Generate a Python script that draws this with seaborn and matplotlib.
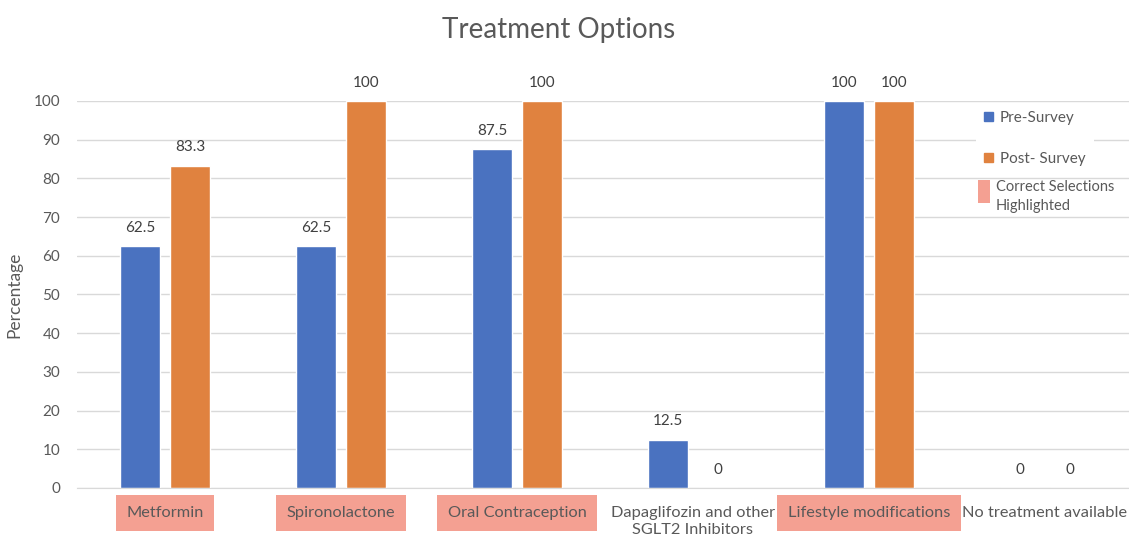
import matplotlib
matplotlib.use("Agg")
import matplotlib.pyplot as plt
from matplotlib.patches import Patch, Rectangle
import seaborn as sns
import pandas as pd

categories = [
    "Metformin",
    "Spironolactone",
    "Oral Contraception",
    "Dapaglifozin and other\nSGLT2 Inhibitors",
    "Lifestyle modifications",
    "No treatment available",
]
pre_survey = [62.5, 62.5, 87.5, 12.5, 100, 0]
post_survey = [83.3, 100, 100, 0, 100, 0]
correct = [True, True, True, False, True, False]
series = ["Pre-Survey", "Post- Survey"]

blue = "#4A72C0"
orange = "#E0823F"
pink = "#F4A092"
grey = "#595959"

df = pd.DataFrame({
    "Treatment": categories * 2,
    "Survey": [series[0]] * len(categories) + [series[1]] * len(categories),
    "Percentage": pre_survey + post_survey,
})

sns.set_style("white")
plt.rcParams["font.family"] = ["Lato", "DejaVu Sans"]

fig = plt.figure(figsize=(11.29, 5.37), dpi=100)
ax = fig.add_axes([0.0682, 0.0913, 0.9353, 0.7207])

sns.barplot(
    data=df, x="Treatment", y="Percentage", hue="Survey",
    palette={series[0]: blue, series[1]: orange},
    width=0.568, gap=0.2, legend=False, ax=ax, saturation=1,
)

for cont in ax.containers:
    ax.bar_label(cont, labels=[f"{v:g}" for v in cont.datavalues],
                 padding=8, fontsize=11, color="#404040")

ax.set_xlim(-0.5, len(categories) - 0.5)
ax.set_ylim(0, 100)
ax.set_yticks(range(0, 101, 10))
ax.grid(axis="y", color="#D9D9D9", linewidth=1)
ax.set_axisbelow(True)
for s in ["top", "right", "left"]:
    ax.spines[s].set_visible(False)
ax.spines["bottom"].set_color("#D9D9D9")
ax.tick_params(axis="y", length=0, pad=12, labelsize=11, labelcolor=grey)
ax.tick_params(axis="x", length=0, pad=13, labelsize=11.8, labelcolor=grey)
ax.set_xlabel("")
ax.set_ylabel("Percentage", fontsize=12.5, color=grey, labelpad=8)

ax.set_xticks(range(len(categories)))
ax.set_xticklabels(categories, linespacing=1.25)
for lab, ok in zip(ax.get_xticklabels(), correct):
    if ok:
        lab.set_bbox(dict(boxstyle="square,pad=0.65", facecolor=pink,
                          edgecolor="none"))

fig.suptitle("Treatment Options", fontsize=20, color=grey, y=0.945,
             va="center", x=0.495)

handles = [Patch(color=blue, label=series[0]), Patch(color=orange, label=series[1])]
leg = ax.legend(handles=handles, loc="upper left", bbox_to_anchor=(0.844, 1.015),
                frameon=True, facecolor="white", edgecolor="none", framealpha=1,
                fontsize=11, handlelength=0.55, handleheight=0.55,
                labelspacing=1.75, borderpad=0.55, handletextpad=0.45, labelcolor=grey)
leg.set_zorder(4)

ax.add_patch(Rectangle((0.853, 0.736), 0.0114, 0.06, transform=ax.transAxes,
                       facecolor=pink, edgecolor="none", clip_on=False, zorder=6))
ax.text(0.870, 0.752, "Correct Selections\nHighlighted", transform=ax.transAxes,
        fontsize=10.5, color=grey, va="center", ha="left", linespacing=1.45,
        zorder=6)

fig.savefig("out.png", dpi=100)
